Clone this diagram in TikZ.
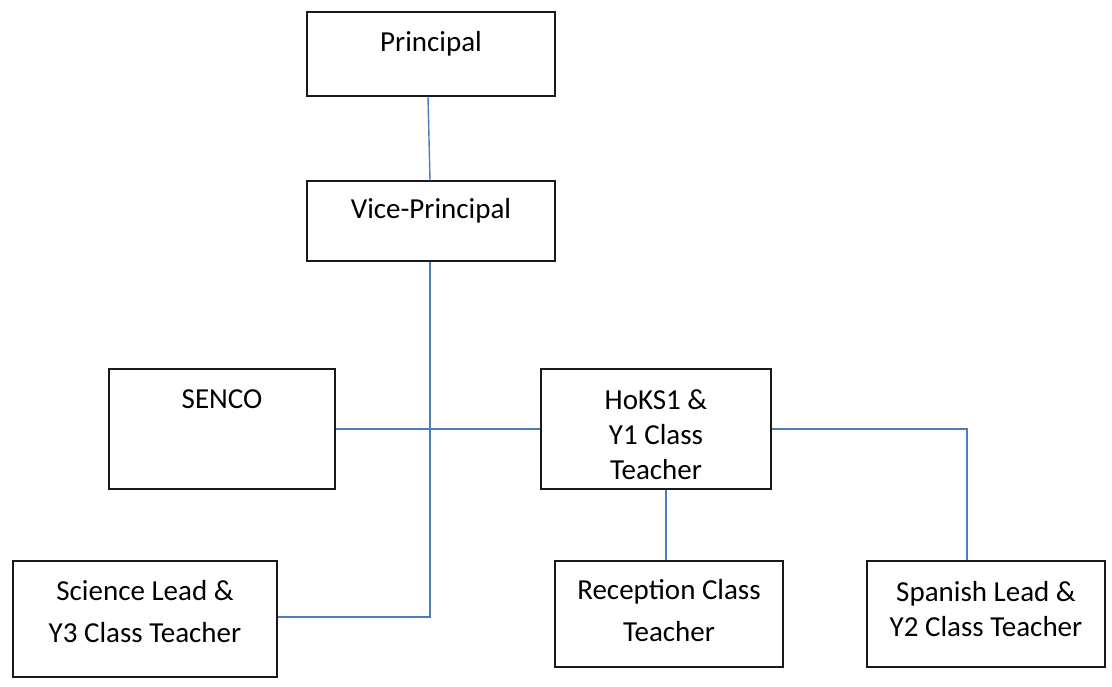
\documentclass[tikz,border=0pt]{standalone}
\usepackage{fontspec}
\setmainfont{Carlito}
\begin{document}
\begin{tikzpicture}[x=1pt,y=-1pt,
  box/.style={draw=black!90, line width=1.4pt, inner sep=0pt, fill=white},
  txt/.style={font=\fontsize{29}{35}\selectfont, align=center, inner sep=0pt, anchor=base},
  txtwide/.style={txt, font=\fontsize{29}{42}\selectfont},
  link/.style={draw={rgb,255:red,74;green,126;blue,187}, line width=1.4pt}]
\useasboundingbox (0,0) rectangle (1112,686);

% boxes
\node[box, minimum width=248pt, minimum height=84pt]  (prin) at (431,54)  {};
\node[box, minimum width=248pt, minimum height=80pt]  (vice) at (431,221) {};
\node[box, minimum width=226pt, minimum height=120pt] (senco) at (222,429) {};
\node[box, minimum width=230pt, minimum height=120pt] (hoks) at (656,429) {};
\node[box, minimum width=264pt, minimum height=116pt] (sci) at (145,619) {};
\node[box, minimum width=228pt, minimum height=106pt] (rec) at (669,614) {};
\node[box, minimum width=238pt, minimum height=106pt] (span) at (986,614) {};

% texts (anchored at the baseline of the last line)
\node[txt] (prinT) at (431,51) {Principal};
\node[txt] (viceT) at (431,218) {Vice-Principal};
\node[txt] (sencoT) at (222,408) {SENCO};
\node[txt] (hoksT) at (656,479) {HoKS1 \&\\Y1 Class\\Teacher};
\node[txtwide] (sciT) at (145,642) {Science Lead \&\\Y3 Class Teacher};
\node[txtwide] (recT) at (669,641) {Reception Class\\Teacher};
\node[txt] (spanT) at (986,636) {Spanish Lead \&\\Y2 Class Teacher};

% connectors
\draw[link] ([xshift=-3pt]prin.south) -- ([xshift=-1pt]vice.north);
\draw[link] ([xshift=-1pt]vice.south) |- ([yshift=2pt]sci.east);
\draw[link] (senco.east) -- (hoks.west);
\draw[link] (hoks.east) -| ([xshift=-19pt]span.north);
\draw[link] ([xshift=10pt]hoks.south) -- ([xshift=-3pt]rec.north);
\end{tikzpicture}
\end{document}
